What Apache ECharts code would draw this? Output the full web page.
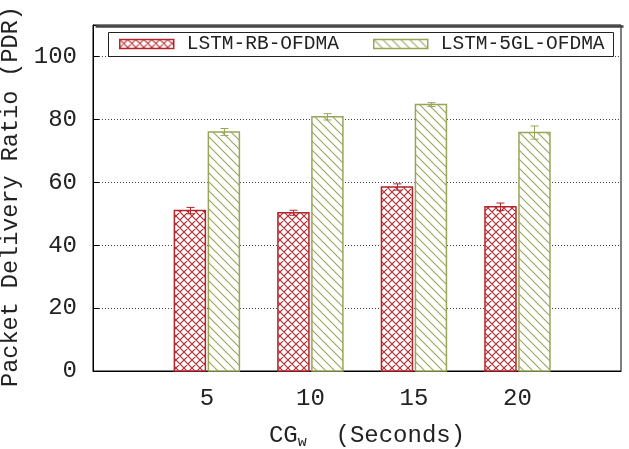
<!DOCTYPE html>
<html><head><meta charset="utf-8">
<script src="https://cdn.jsdelivr.net/npm/echarts@6/dist/echarts.min.js"></script>
<style>html,body{margin:0;padding:0;background:#fff}#c{width:629px;height:449px}</style>
</head><body><div id="c"></div>
<script>
var categories = [5, 10, 15, 20];
var seriesNames = ['LSTM-RB-OFDMA', 'LSTM-5GL-OFDMA'];
var rbValues = [51.0, 50.3, 58.5, 52.2];
var rbErrors = [1.0, 0.8, 1.0, 1.2];
var glValues = [76.0, 80.8, 84.7, 75.8];
var glErrors = [1.1, 1.0, 0.6, 2.1];
var yTicks = [0, 20, 40, 60, 80, 100];

var RED = '#b3262c', GREEN = '#9aa55a';
var FONT = 'Liberation Mono';

function makePattern(kind) {
  var c = document.createElement('canvas');
  var s = kind === 'cross' ? 8 : 9;
  c.width = s; c.height = s;
  var g = c.getContext('2d');
  g.fillStyle = '#fff'; g.fillRect(0, 0, s, s);
  g.strokeStyle = kind === 'cross' ? RED : GREEN;
  g.lineWidth = 1.1;
  g.beginPath();
  g.moveTo(-1, -1); g.lineTo(s + 1, s + 1);
  g.moveTo(-1 - s, -1); g.lineTo(1, s + 1);
  g.moveTo(s - 1, -1); g.lineTo(2 * s + 1, s + 1);
  if (kind === 'cross') {
    g.moveTo(s + 1, -1); g.lineTo(-1, s + 1);
    g.moveTo(2 * s + 1, -1); g.lineTo(s - 1, s + 1);
    g.moveTo(1, -1); g.lineTo(-s - 1, s + 1);
  }
  g.stroke();
  return { image: c, repeat: 'repeat' };
}
var redPat = makePattern('cross');
var greenPat = makePattern('diag');

var BAR_W = 31, OFF = 17;

function barSeries(name, vals, pat, color, off) {
  return {
    name: name, type: 'custom',
    data: categories.map(function (c, i) { return [c, vals[i]]; }),
    itemStyle: { color: pat, borderColor: color, borderWidth: 1.5 },
    renderItem: function (params, api) {
      var top = api.coord([api.value(0), api.value(1)]);
      var bot = api.coord([api.value(0), 0]);
      return {
        type: 'rect',
        shape: { x: top[0] + off - BAR_W / 2, y: top[1], width: BAR_W, height: bot[1] - top[1] },
        style: { fill: pat, stroke: color, lineWidth: 1.5 }
      };
    },
    z: 3
  };
}
function errSeries(name, vals, errs, color, off) {
  return {
    name: name, type: 'custom',
    data: categories.map(function (c, i) { return [c, vals[i] - errs[i], vals[i] + errs[i]]; }),
    renderItem: function (params, api) {
      var lo = api.coord([api.value(0), api.value(1)]);
      var hi = api.coord([api.value(0), api.value(2)]);
      var x = Math.round(lo[0] + off) + 0.5;
      var st = { stroke: color, lineWidth: 1 };
      return { type: 'group', children: [
        { type: 'line', shape: { x1: x, y1: lo[1], x2: x, y2: hi[1] }, style: st },
        { type: 'line', shape: { x1: x - 4, y1: lo[1], x2: x + 4, y2: lo[1] }, style: st },
        { type: 'line', shape: { x1: x - 4, y1: hi[1], x2: x + 4, y2: hi[1] }, style: st }
      ]};
    },
    z: 4
  };
}

var chart = echarts.init(document.getElementById('c'));
chart.setOption({
  animation: false,
  backgroundColor: '#fff',
  textStyle: { fontFamily: FONT },
  grid: { left: 93, right: 8, top: 25, bottom: 78, show: true, borderColor: '#000', borderWidth: 1,
          containLabel: false, outerBoundsMode: 'none' },
  legend: [
    { data: [{ name: seriesNames[0], itemStyle: { color: redPat, borderColor: RED, borderWidth: 1.5 } }],
      left: 114, top: 29, itemWidth: 54, itemHeight: 9, icon: 'rect', selectedMode: false,
      textStyle: { fontFamily: FONT, fontSize: 19.5, color: '#222', padding: [0, 0, 0, 8] } },
    { data: [{ name: seriesNames[1], itemStyle: { color: greenPat, borderColor: GREEN, borderWidth: 1.5 } }],
      left: 368, top: 29, itemWidth: 54, itemHeight: 9, icon: 'rect', selectedMode: false,
      textStyle: { fontFamily: FONT, fontSize: 19.5, color: '#222', padding: [0, 0, 0, 8] } }
  ],
  graphic: [
    { type: 'rect', left: 108, top: 32, shape: { width: 505, height: 24 }, style: { fill: 'rgba(0,0,0,0)', stroke: '#222', lineWidth: 1 }, z: 10 },
    { type: 'line', left: 93, top: 24, shape: { x1: 0, y1: 0, x2: 528, y2: 0 }, style: { stroke: '#444', lineWidth: 2.5 }, z: 10 }
  ],
  xAxis: {
    type: 'value', min: -0.5, max: 25,
    axisLine: { show: true, onZero: false, lineStyle: { color: '#000', width: 1 } },
    axisTick: { show: false },
    splitLine: { show: false },
    axisLabel: {
      fontFamily: FONT, fontSize: 24, color: '#222', margin: 16,
      customValues: categories, hideOverlap: false
    },
    name: '{a|CG}{s|w}{a|  (Seconds)}', nameLocation: 'middle', nameGap: 50,
    nameTextStyle: { padding: [0, 0, 0, 20], rich: {
      a: { fontFamily: FONT, fontSize: 24, color: '#222' },
      s: { fontFamily: FONT, fontSize: 15, color: '#222', verticalAlign: 'bottom', padding: [14, 0, 0, 0] }
    } }
  },
  yAxis: {
    type: 'value', min: 0, max: 110, interval: 20,
    axisLine: { show: true, onZero: false, lineStyle: { color: '#000' } },
    axisTick: { show: true, inside: true, length: 6, lineStyle: { color: '#000' } },
    splitLine: { show: true, lineStyle: { color: '#444', type: [1, 2], width: 1 } },
    axisLabel: {
      fontFamily: FONT, fontSize: 24, color: '#222', margin: 16,
      formatter: function (v) { return yTicks.indexOf(v) >= 0 ? String(v) : ''; }
    },
    name: 'Packet Delivery Ratio (PDR)', nameLocation: 'middle', nameGap: 69,
    nameTextStyle: { fontFamily: FONT, fontSize: 23.5, color: '#222', padding: [0, 0, 0, 3] }
  },
  series: [
    barSeries(seriesNames[0], rbValues, redPat, RED, -OFF),
    barSeries(seriesNames[1], glValues, greenPat, GREEN, OFF),
    errSeries(seriesNames[0], rbValues, rbErrors, RED, -OFF),
    errSeries(seriesNames[1], glValues, glErrors, GREEN, OFF)
  ]
});
</script></body></html>
